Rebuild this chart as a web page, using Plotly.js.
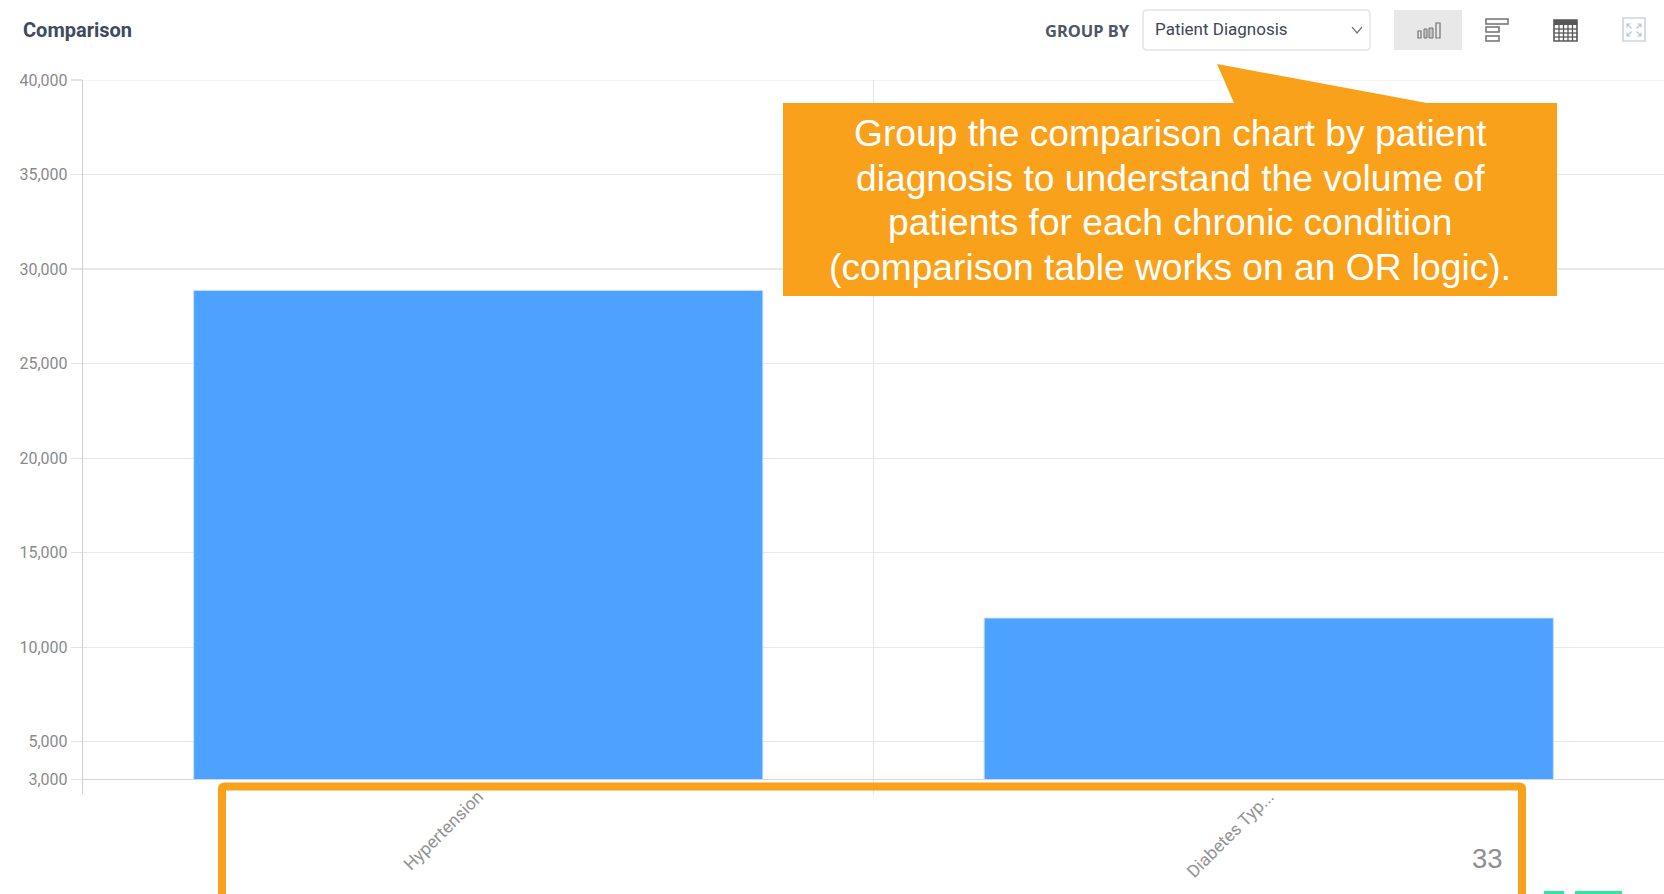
<!DOCTYPE html>
<html>
<head>
<meta charset="utf-8">
<title>Comparison</title>
<script src="https://cdn.plot.ly/plotly-3.0.1.min.js"></script>
<style>html,body{margin:0;padding:0;background:#fff;overflow:hidden}</style>
</head>
<body>
<div id="chart" style="width:1664px;height:894px"></div>
<script>
// Patient counts per chronic condition
const categories = ['Hypertension', 'Diabetes Typ...'];
const patientCounts = [28870, 11540];
const axisFloor = 3000;
const yTicks = [3000, 5000, 10000, 15000, 20000, 25000, 30000, 35000, 40000];
const calloutLines = [
  'Group the comparison chart by patient',
  'diagnosis to understand the volume of',
  'patients for each chronic condition',
  '(comparison table works on an OR logic).'
];

const W = 1664, H = 894;
const M = {l: 83, r: 0, t: 80, b: 100};
const px = x => (x - M.l) / (W - M.l - M.r);
const py = y => 1 - (y - M.t) / (H - M.t - M.b);

// Page furniture is placed in pixels and converted to paper coordinates
function rect(x0, y0, x1, y1, fill, line, lw) {
  return {type: 'rect', xref: 'paper', yref: 'paper', layer: 'above',
    x0: px(x0), x1: px(x1), y0: py(y0), y1: py(y1),
    fillcolor: fill || 'rgba(0,0,0,0)',
    line: {color: line || 'rgba(0,0,0,0)', width: lw === undefined ? 0 : lw}};
}
function path(pts, fill, line, lw) {
  const d = pts.map(p => typeof p === 'string' ? p : px(p[0]) + ' ' + py(p[1])).join(' ');
  return {type: 'path', xref: 'paper', yref: 'paper', layer: 'above', path: d,
    fillcolor: fill || 'rgba(0,0,0,0)',
    line: {color: line || 'rgba(0,0,0,0)', width: lw === undefined ? 0 : lw}};
}
function text(x, y, str, size, color, family, anchor) {
  return {xref: 'paper', yref: 'paper', x: px(x), y: py(y), text: str,
    showarrow: false, xanchor: anchor || 'left', yanchor: 'middle',
    font: {size, color, family}};
}

const UI = 'Roboto, sans-serif';
const ORANGE = '#f9a11b';
const ICON = '#707070';
const EXPAND = '#b9c2d6';

const shapes = [
  // baseline at the axis floor and top rule of the plot
  {type: 'line', xref: 'paper', yref: 'y', x0: 0, x1: 1, y0: axisFloor, y1: axisFloor,
   line: {color: '#d6d6d6', width: 1.2}},
  {type: 'line', xref: 'paper', yref: 'y', x0: 0, x1: 1, y0: 40000, y1: 40000,
   line: {color: '#e8e8e8', width: 1.2}},
  // group-by dropdown
  path(['M', [1147, 10], 'L', [1366, 10], 'Q', [1370, 10], [1370, 14], 'L', [1370, 46], 'Q', [1370, 50], [1366, 50],
        'L', [1147, 50], 'Q', [1143, 50], [1143, 46], 'L', [1143, 14], 'Q', [1143, 10], [1147, 10], 'Z'],
       '#fff', '#e2e4e8', 1.5),
  path(['M', [1352, 27], 'L', [1357, 33], 'L', [1362, 27]], null, '#777', 1.2),
  // selected vertical-bar view button
  rect(1394, 10, 1462, 50, '#e8e8e8'),
  rect(1418, 31, 1421, 38, null, ICON, 1.2),
  rect(1424, 29, 1427, 38, '#c4c4c4', ICON, 1),
  rect(1429, 28, 1433, 38, '#c4c4c4', ICON, 1),
  rect(1436, 23, 1440, 38, null, ICON, 1.2),
  // horizontal-bar view button
  rect(1486, 19, 1508, 24, null, ICON, 1.5),
  rect(1486, 27, 1499, 32, null, ICON, 1.5),
  rect(1486, 36, 1499, 41, null, ICON, 1.5),
  // table view button
  rect(1554, 20, 1577, 41, '#fff', '#585858', 1.6),
  rect(1554, 20, 1577, 25, '#585858'),
  // fullscreen button
  rect(1623, 18, 1645, 41, '#fff', '#cdd3e0', 1.6),
  // orange highlight frame round the category labels
  path(['M', [222, 894], 'L', [222, 789], 'Q', [222, 786.5], [224.5, 786.5],
        'L', [1519.5, 786.5], 'Q', [1522, 786.5], [1522, 789], 'L', [1522, 894]], null, ORANGE, 8),
  // callout box and its pointer
  path(['M', [1217, 64], 'L', [1234, 103], 'L', [1427, 103], 'Z'], ORANGE),
  rect(783, 103, 1557, 296, ORANGE),
  // green marks cut off at the page edge
  rect(1544, 891, 1564, 894, '#2ee6a0'),
  rect(1575, 891, 1622, 894, '#2ee6a0')
];
// table grid
[1559, 1563.5, 1568, 1572.5].forEach(x => shapes.push(path(['M', [x, 25], 'L', [x, 41]], null, '#585858', 1.3)));
[29, 33, 37].forEach(y => shapes.push(path(['M', [1554, y], 'L', [1577, y]], null, '#585858', 1.3)));
// fullscreen corner arrows
[[1627, 24, 1, 1], [1641, 24, -1, 1], [1627, 36, 1, -1], [1641, 36, -1, -1]].forEach(([x, y, a, b]) =>
  shapes.push(path(['M', [x, y + 3.5 * b], 'L', [x, y], 'L', [x + 3.5 * a, y], 'M', [x, y], 'L', [x + 4.5 * a, y + 4.5 * b]],
                   null, EXPAND, 1.1)));

const annotations = [
  text(21, 30, '<b>Comparison</b>', 20, '#3d4a63', UI),
  text(1132, 30, '<b>GROUP BY</b>', 16.5, '#4f5666', 'Noto Sans', 'right'),
  text(1153, 29, 'Patient Diagnosis', 17, '#404654', UI),
  text(1487, 859, '33', 27.5, '#8f8f8f', 'Liberation Sans', 'center')
];
calloutLines.forEach((line, i) => {
  annotations.push(text(1170, 133.3 + i * 44.6, line, 37.2, '#ffffff', 'Liberation Sans', 'center'));
});

Plotly.newPlot('chart', [{
  type: 'bar',
  x: categories,
  y: patientCounts.map(v => v - axisFloor),
  base: axisFloor,
  width: 0.72,
  marker: {color: '#4da1ff', line: {width: 1, color: '#c4dfff'}},
  hoverinfo: 'x+text',
  text: patientCounts.map(String),
  textposition: 'none'
}], {
  width: W, height: H,
  margin: M,
  paper_bgcolor: '#fff', plot_bgcolor: '#fff',
  showlegend: false,
  shapes, annotations,
  xaxis: {
    type: 'category', range: [-0.5, 1.5], tickson: 'boundaries',
    tickangle: -45, ticks: '', showline: false, zeroline: false,
    showgrid: true, gridcolor: '#e3e3e3', gridwidth: 1.2,
    ticklabelstandoff: -12,
    tickfont: {family: UI, size: 17.5, color: '#939393'}
  },
  yaxis: {
    range: [2233, 40000], tickmode: 'array', tickvals: yTicks,
    tickformat: ',d', ticks: 'outside', ticklen: 11, tickcolor: '#e3e3e3', tickwidth: 1.2,
    showline: true, linecolor: '#cfcfcf', linewidth: 1.2,
    showgrid: true, gridcolor: '#e8e8e8', gridwidth: 1.2, zeroline: false,
    tickfont: {family: UI, size: 16, color: '#8a8a8a'}
  }
}, {displayModeBar: false, staticPlot: true});
</script>
</body>
</html>
